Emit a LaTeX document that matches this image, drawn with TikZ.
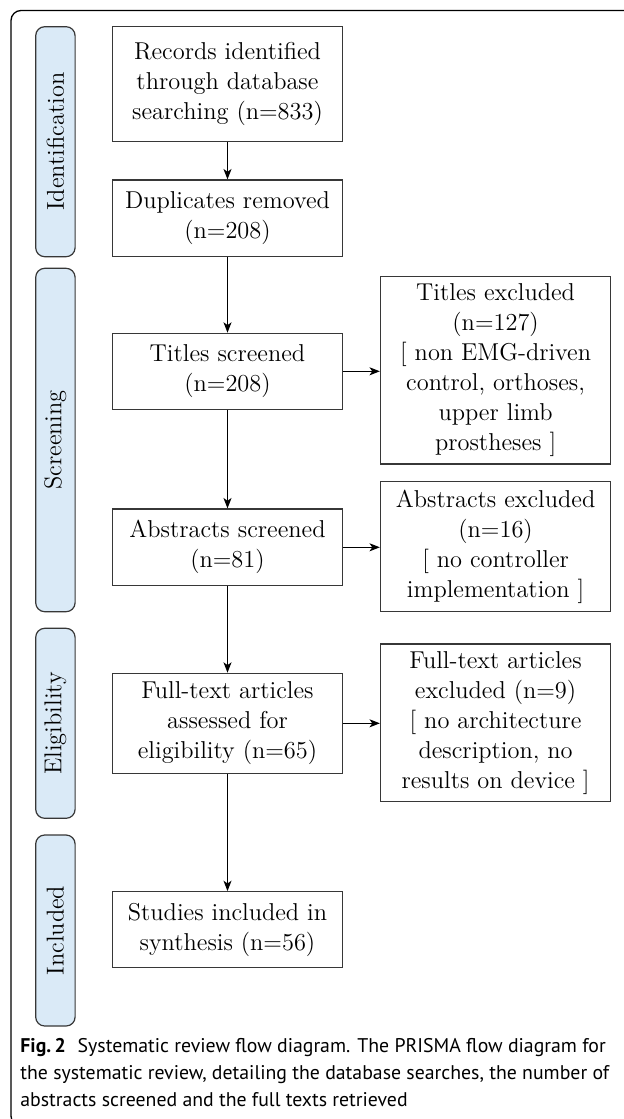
\documentclass[tikz,border=0pt]{standalone}
\usepackage{fontspec}
\usetikzlibrary{arrows.meta}
\newfontfamily\capfont{PT Sans}
\definecolor{sidefill}{RGB}{218,234,247}
\definecolor{edgegray}{RGB}{55,55,55}
\tikzset{
  x=0.5pt, y=-0.5pt,
  flowbox/.style={draw=edgegray, line width=0.6pt, align=center, inner sep=0pt,
     font=\fontsize{12.2}{15}\selectfont},
  leftbox/.style={flowbox, minimum width=114.8pt},
  rightbox/.style={flowbox, minimum width=115.1pt},
  sidebox/.style={draw=edgegray, line width=0.6pt, fill=sidefill, rounded corners=4.5pt,
     minimum width=19.7pt, inner sep=0pt, font=\fontsize{12.2}{15}\selectfont},
  sidetext/.style={rotate=90, font=\fontsize{12.2}{15}\selectfont, inner sep=0pt},
  flowarrow/.style={draw=black, line width=0.6pt, -{Stealth[length=5.2pt,width=4pt,inset=1.4pt]}},
}
\begin{document}
\begin{tikzpicture}
\useasboundingbox (0,0) rectangle (624,1119);
\clip (0,0) rectangle (624,1119);
% outer frame
\draw[line width=0.65pt, rounded corners=5pt] (640,10.5) -- (11,10.5) -- (11,1126) -- (640,1126);

% side labels
\node[sidebox, minimum height=115pt] (sid) at (55.4,141.7) {};
\node[sidetext] (tid) at (sid.center) {Identification};
\node[sidebox, minimum height=171.7pt] (ssc) at (55.4,440) {};
\node[sidetext] (tsc) at (ssc.center) {Screening};
\node[sidebox, minimum height=95pt] (sel) at (55.4,723.3) {};
\node[sidetext] (tel) at (sel.center) {Eligibility};
\node[sidebox, minimum height=95.5pt] (sin) at (55.4,930.5) {};
\node[sidetext] (tin) at (sin.center) {Included};

% left column
\node[leftbox, minimum height=57.5pt] (rec) at (227.5,84.2) {Records identified\\through database\\searching (n=833)};
\node[leftbox, minimum height=38.3pt] (dup) at (227.5,218.3) {Duplicates removed\\(n=208)};
\node[leftbox, minimum height=38pt] (tit) at (227.5,371.3) {Titles screened\\(n=208)};
\node[leftbox, minimum height=38.3pt] (abs) at (227.5,547.3) {Abstracts screened\\(n=81)};
\node[leftbox, minimum height=50pt] (ful) at (227.5,723.3) {Full-text articles\\assessed for\\eligibility (n=65)};
\node[leftbox, minimum height=38pt] (stu) at (227.5,929.7) {Studies included in\\synthesis (n=56)};

% right column
\node[rightbox, minimum height=93.7pt] (tex) at (495.6,370.3) {Titles excluded\\(n=127)\\{[} non EMG-driven\\control, orthoses,\\upper limb\\prostheses ]};
\node[rightbox, minimum height=65pt] (aex) at (495.6,546.7) {Abstracts excluded\\(n=16)\\{[} no controller\\implementation ]};
\node[rightbox, minimum height=78.8pt] (fex) at (495.6,722.8) {Full-text articles\\excluded (n=9)\\{[} no architecture\\description, no\\results on device ]};

% connectors
\draw[flowarrow] (rec) -- (dup);
\draw[flowarrow] (dup) -- (tit);
\draw[flowarrow] (tit) -- (abs);
\draw[flowarrow] (abs) -- (ful);
\draw[flowarrow] (ful) -- (stu);
\draw[flowarrow] (tit.east) -- (tit.east -| tex.west);
\draw[flowarrow] (abs.east) -- (abs.east -| aex.west);
\draw[flowarrow] (ful.east) -- (ful.east -| fex.west);

% caption
\node[anchor=north west, align=left, inner sep=0pt, font=\capfont\fontsize{9.9}{13.5}\selectfont] (cap) at (20,1038)
 {\textbf{Fig.\,2}\hspace{0.6em}Systematic review flow diagram. The PRISMA flow diagram for\\
  the systematic review, detailing the database searches, the number of\\
  abstracts screened and the full texts retrieved};
\end{tikzpicture}
\end{document}
